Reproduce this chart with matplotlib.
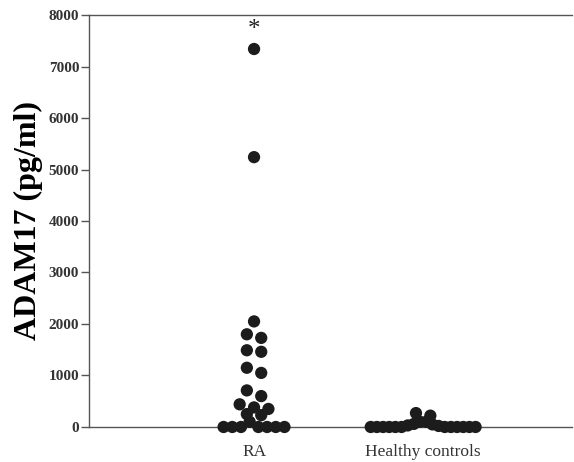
import numpy as np
import matplotlib.pyplot as plt

plt.rcParams['font.family'] = ['Liberation Serif', 'DejaVu Serif']

groups = ['RA', 'Healthy controls']
ra_vals = [7340, 5240, 2050, 1800, 1730, 1490, 1460, 1150, 1050, 710, 600,
           440, 380, 350, 250, 230, 100, 0, 0, 0, 0, 0, 0, 0]
hc_vals = [270, 220, 100, 100, 60, 50, 30, 20,
           0, 0, 0, 0, 0, 0, 0, 0, 0, 0, 0, 0]
yticks = [0, 1000, 2000, 3000, 4000, 5000, 6000, 7000, 8000]


def column_offsets(vals, row_h=115, step=0.085, max_w=0.36):
    # prism-like column scatter: near values share a row, spread sideways
    v = np.sort(np.asarray(vals, float))
    rows, cur = [], [0]
    for i in range(1, len(v)):
        if v[i] - v[cur[0]] <= row_h:
            cur.append(i)
        else:
            rows.append(cur)
            cur = [i]
    rows.append(cur)
    off = np.zeros(len(v))
    for r in rows:
        n = len(r)
        s = step if n < 2 else min(step, max_w / (n - 1))
        slots = [(k - (n - 1) / 2) * s for k in range(n)]
        members = r[::-1]                   # larger value on the left
        if n > 3:
            slots = sorted(slots, key=abs)  # long rows: larger values in the centre
        for idx, x in zip(members, slots):
            off[idx] = x
    return v, off


fig = plt.figure(figsize=(5.74, 4.62), dpi=100)
ax = fig.add_axes([0.155, 0.0758, 0.8415, 0.8917])

widths = [0.36, 0.62]
for i, (vals, w) in enumerate(zip([ra_vals, hc_vals], widths)):
    v, off = column_offsets(vals, max_w=w)
    ax.scatter(i + 1 + off, v, s=78, color='#1c1c1c', edgecolors='none',
               zorder=3, clip_on=False)

ax.annotate('*', xy=(1, max(ra_vals)), xytext=(0, 6), textcoords='offset points',
            ha='center', va='bottom', fontsize=18, color='#222222')

ax.set_xlim(0.024, 2.88)
ax.set_ylim(0, 8000)
ax.set_yticks(yticks)
ax.set_yticklabels([str(t) for t in yticks], fontsize=11, fontweight='bold',
                   color='#333333')
ax.set_xticks([1, 2])
ax.set_xticklabels(groups, fontsize=12.5, color='#333333')
ax.tick_params(axis='y', length=6, width=1, color='#555555', pad=1)
ax.tick_params(axis='x', length=0, pad=12)
ax.set_ylabel('ADAM17 (pg/ml)', fontsize=23, fontweight='bold', labelpad=4)

for s in ['left', 'top', 'bottom']:
    ax.spines[s].set_color('#555555')
    ax.spines[s].set_linewidth(1)
ax.spines['right'].set_visible(False)

fig.savefig('out.png', dpi=100)
